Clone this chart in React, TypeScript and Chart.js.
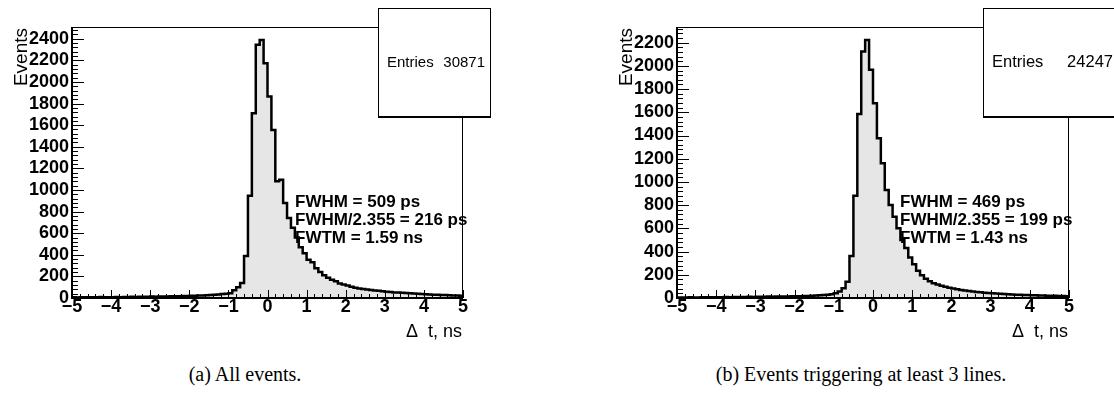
import React, { useEffect, useRef } from "react";
import { Chart, registerables } from "chart.js";

Chart.register(...registerables);

// ---------------- data ----------------
const X_MIN = -5;
const X_MAX = 5;
const BIN_WIDTH = 0.1;
const X_TICKS = [-5, -4, -3, -2, -1, 0, 1, 2, 3, 4, 5];
const Y_TICKS_ALL = [0, 200, 400, 600, 800, 1000, 1200, 1400, 1600, 1800, 2000, 2200, 2400];
const Y_TICKS_3L = [0, 200, 400, 600, 800, 1000, 1200, 1400, 1600, 1800, 2000, 2200];

// Δt histogram, all events (100 bins from -5 to 5 ns)
const COUNTS_ALL = [
  6, 5, 7, 6, 8, 7, 6, 9, 8, 7,
  8, 9, 8, 10, 9, 11, 10, 12, 11, 12,
  13, 12, 14, 15, 14, 16, 17, 16, 18, 19,
  20, 21, 22, 24, 25, 27, 29, 32, 36, 40,
  45, 72, 100, 140, 389, 947, 1710, 2343, 2389, 2173,
  1864, 1556, 1080, 1095, 880, 740, 650, 560, 470, 415,
  355, 330, 275, 240, 210, 188, 170, 155, 135, 125,
  115, 105, 95, 88, 83, 78, 74, 70, 66, 62,
  58, 55, 52, 50, 48, 46, 43, 41, 39, 37,
  35, 33, 31, 29, 28, 27, 25, 24, 23, 21,
];

// Δt histogram, events triggering at least 3 lines
const COUNTS_3L = [
  4, 5, 4, 6, 5, 5, 6, 7, 6, 6,
  7, 6, 8, 7, 8, 9, 8, 9, 10, 9,
  10, 11, 10, 12, 11, 13, 12, 14, 13, 15,
  16, 15, 17, 18, 19, 21, 23, 25, 28, 33,
  40, 55, 83, 141, 362, 882, 1586, 2124, 2224, 1966,
  1678, 1376, 1161, 931, 802, 701, 601, 500, 430, 350,
  290, 235, 195, 165, 145, 128, 116, 106, 97, 88,
  82, 76, 70, 65, 60, 56, 52, 49, 46, 43,
  40, 38, 36, 34, 32, 30, 29, 28, 26, 25,
  24, 23, 22, 21, 20, 19, 19, 18, 17, 16,
];

const ENTRIES_ALL = "30871";
const ENTRIES_3L = "24247";
const FIT_ALL = ["FWHM = 509 ps", "FWHM/2.355 = 216 ps", "FWTM = 1.59 ns"];
const FIT_3L = ["FWHM = 469 ps", "FWHM/2.355 = 199 ps", "FWTM = 1.43 ns"];
const X_TITLE = "\u0394  t, ns";
const Y_TITLE = "Events";
const CAPTION_A = "(a) All events.";
const CAPTION_B = "(b) Events triggering at least 3 lines.";

// ---------------- styling / layout ----------------
const SANS = '"Liberation Sans", Arial, Helvetica, sans-serif';
const SERIF = '"Liberation Serif", "Times New Roman", serif';
const CANVAS_H = 345;
const FRAME_TOP = 27;
const FRAME_BOTTOM = 298;
const FRAME_LEFT = 72;

function fmtTick(v: number): string {
  if (v < 0) return "\u2212" + Math.abs(v);
  return String(v);
}

type PanelProps = {
  left: number;
  width: number;
  frameRight: number;
  counts: number[];
  yTicks: number[];
  entries: string;
  fit: string[];
  boxWidth: number;
  boxFont: number;
  boxLabelDx: number;
  boxValueDx: number;
};

function Panel(p: PanelProps) {
  const ref = useRef<HTMLCanvasElement | null>(null);

  useEffect(() => {
    const canvas = ref.current;
    if (!canvas) return;
    const pts = p.counts.map((c, i) => ({ x: (i + X_MIN / BIN_WIDTH) * BIN_WIDTH, y: c }));
    pts.push({ x: X_MAX, y: p.counts[p.counts.length - 1] });
    const peak = Math.max(...p.counts);
    const yMax = peak * 1.05;

    const rootPlugin = {
      id: "rootDecor",
      afterDraw(chart: any) {
        const { ctx, chartArea: a } = chart;
        const xs = chart.scales.x;
        const ys = chart.scales.y;
        ctx.save();
        ctx.strokeStyle = "#000";
        ctx.lineWidth = 1;
        // x ticks (inside the frame)
        ctx.beginPath();
        for (let k = -25; k <= 25; k++) {
          const px = Math.round(xs.getPixelForValue(k / 5)) + 0.5;
          const len = k % 5 === 0 ? 8 : 4;
          ctx.moveTo(px, a.bottom);
          ctx.lineTo(px, a.bottom - len);
        }
        // y ticks (inside the frame)
        for (let v = 0; v <= yMax; v += 40) {
          const py = Math.round(ys.getPixelForValue(v)) + 0.5;
          const len = v % 200 === 0 ? 12 : 6;
          ctx.moveTo(a.left, py);
          ctx.lineTo(a.left + len, py);
        }
        ctx.stroke();
        // frame
        ctx.beginPath();
        ctx.lineWidth = 1;
        ctx.moveTo(a.left, a.top + 0.5);
        ctx.lineTo(a.right, a.top + 0.5);
        ctx.moveTo(a.right - 0.5, a.top);
        ctx.lineTo(a.right - 0.5, a.bottom);
        ctx.stroke();
        ctx.beginPath();
        ctx.lineWidth = 2;
        ctx.moveTo(a.left, a.top);
        ctx.lineTo(a.left, a.bottom);
        ctx.moveTo(a.left - 1, a.bottom);
        ctx.lineTo(a.right, a.bottom);
        ctx.stroke();

        // axis titles
        ctx.fillStyle = "#000";
        ctx.font = "18px " + SANS;
        ctx.textAlign = "right";
        ctx.textBaseline = "alphabetic";
        ctx.fillText(X_TITLE, a.right - 1, 337);
        ctx.save();
        ctx.translate(26.5, a.top + 1);
        ctx.rotate(-Math.PI / 2);
        ctx.font = "19px " + SANS;
        ctx.textAlign = "right";
        ctx.fillText(Y_TITLE, 0, 0);
        ctx.restore();

        // fit results
        ctx.font = "bold 17px " + SANS;
        ctx.textAlign = "left";
        p.fit.forEach((t, i) => {
          ctx.fillText(t, a.left + 223, 207 + i * 18);
        });

        // stats box
        const bx = a.left + 306;
        const by = 8;
        const bw = p.boxWidth;
        const bh = 109;
        ctx.fillStyle = "#fff";
        ctx.fillRect(bx, by, bw, bh);
        ctx.lineWidth = 1;
        ctx.strokeStyle = "#000";
        ctx.strokeRect(bx + 0.5, by + 0.5, bw - 1, bh - 1);
        ctx.beginPath();
        ctx.lineWidth = 2;
        ctx.moveTo(bx, by + bh);
        ctx.lineTo(bx + bw, by + bh);
        ctx.stroke();
        ctx.fillStyle = "#000";
        ctx.font = p.boxFont + "px " + SANS;
        ctx.textAlign = "left";
        ctx.fillText("Entries", bx + p.boxLabelDx, 67);
        ctx.textAlign = "right";
        ctx.fillText(p.entries, bx + bw - p.boxValueDx, 67);
        ctx.restore();
      },
    };

    const chart = new Chart(canvas, {
      type: "line",
      data: {
        datasets: [
          {
            data: pts,
            stepped: "before",
            borderColor: "#000",
            borderWidth: 2.5,
            backgroundColor: "#e6e6e6",
            fill: "origin",
            pointRadius: 0,
            tension: 0,
          },
        ],
      },
      options: {
        animation: false,
        responsive: false,
        maintainAspectRatio: false,
        layout: {
          padding: { left: 0, top: FRAME_TOP, right: p.width - p.frameRight, bottom: 0 },
        },
        plugins: {
          legend: { display: false },
          tooltip: { enabled: false },
        },
        scales: {
          x: {
            type: "linear",
            min: X_MIN,
            max: X_MAX,
            afterBuildTicks: (ax: any) => {
              ax.ticks = X_TICKS.map((v) => ({ value: v }));
            },
            afterFit: (ax: any) => {
              ax.height = CANVAS_H - FRAME_BOTTOM;
            },
            grid: { display: false, drawTicks: false },
            border: { display: false },
            ticks: {
              autoSkip: false,
              maxRotation: 0,
              minRotation: 0,
              padding: 0,
              color: "#000",
              font: { family: SANS, size: 18, weight: "bold", lineHeight: 1 },
              callback: (v: any) => fmtTick(Number(v)),
            },
          },
          y: {
            type: "linear",
            min: 0,
            max: yMax,
            afterBuildTicks: (ax: any) => {
              ax.ticks = p.yTicks.map((v) => ({ value: v }));
            },
            afterFit: (ax: any) => {
              ax.width = FRAME_LEFT;
            },
            grid: { display: false, drawTicks: false },
            border: { display: false },
            ticks: {
              padding: 3,
              color: "#000",
              font: { family: SANS, size: 18, weight: "bold", lineHeight: 1 },
              callback: (v: any) => fmtTick(Number(v)),
            },
          },
        },
      },
      plugins: [rootPlugin],
    } as any);

    return () => chart.destroy();
  }, []);

  return (
    <canvas
      ref={ref}
      width={p.width}
      height={CANVAS_H}
      style={{ position: "absolute", left: p.left, top: 0, width: p.width, height: CANVAS_H }}
    />
  );
}

export default function App() {
  useEffect(() => {
    document.body.style.margin = "0";
  }, []);
  const capStyle: React.CSSProperties = {
    position: "absolute",
    top: 364,
    fontFamily: SERIF,
    fontSize: 20,
    lineHeight: "20px",
    whiteSpace: "nowrap",
    color: "#000",
    transform: "translateX(-50%)",
  };
  return (
    <div style={{ position: "relative", width: 1114, height: 399, overflow: "hidden", background: "#fff" }}>
      <Panel
        left={0}
        width={557}
        frameRight={463}
        counts={COUNTS_ALL}
        yTicks={Y_TICKS_ALL}
        entries={ENTRIES_ALL}
        fit={FIT_ALL}
        boxWidth={113}
        boxFont={15}
        boxLabelDx={9}
        boxValueDx={6}
      />
      <Panel
        left={605}
        width={509}
        frameRight={464}
        counts={COUNTS_3L}
        yTicks={Y_TICKS_3L}
        entries={ENTRIES_3L}
        fit={FIT_3L}
        boxWidth={136}
        boxFont={16.5}
        boxLabelDx={9}
        boxValueDx={6}
      />
      <div style={{ ...capStyle, left: 245 }}>{CAPTION_A}</div>
      <div style={{ ...capStyle, left: 861 }}>{CAPTION_B}</div>
    </div>
  );
}
